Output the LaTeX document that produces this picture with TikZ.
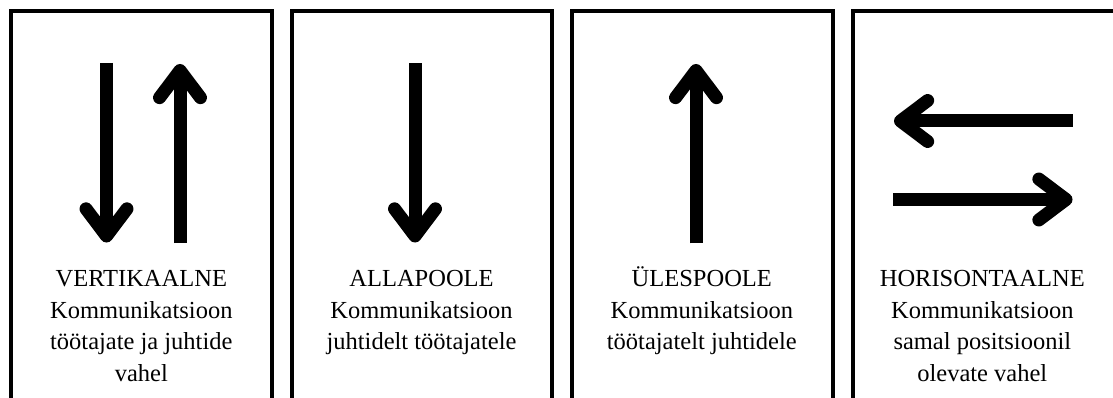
\documentclass[tikz,border=0pt]{standalone}
\usepackage{fontspec}
\setmainfont{Liberation Serif}
\usetikzlibrary{calc}

\tikzset{
  panel/.style={draw=black, line width=4pt},
  shaft/.style={draw=black, line width=13pt, line cap=butt},
  barb/.style={draw=black, line width=13pt, line cap=round, line join=round},
  caption/.style={inner sep=0pt, anchor=base,
    font=\fontsize{24.5}{31.5}\selectfont},
}

% thick arrow from coordinate #1 to the tip vertex #2
\newcommand\fatarrow[2]{%
  \draw[shaft] (#1) -- (#2);
  \draw[barb] ($(#2)!34pt!37:(#1)$) -- (#2) -- ($(#2)!34pt!-37:(#1)$);
}

\begin{document}
\begin{tikzpicture}[x=1pt,y=-1pt]
  \useasboundingbox (0,0) rectangle (1113,398);
  \clip (0,0) rectangle (1113,398);

  % four framed panels, open at the bottom edge
  \foreach \i in {0,1,2} {
    \draw[panel] ({11+280.5*\i},11.5) rectangle ({271.5+280.5*\i},430);
  }
  \draw[panel] (852.5,11.5) rectangle (1115.5,430);

  % panel 1: down and up
  \coordinate (v1s) at (106.5,63);   \coordinate (v1t) at (106.5,236);
  \coordinate (v2s) at (180,243);    \coordinate (v2t) at (180,70.5);
  \fatarrow{v1s}{v1t}
  \fatarrow{v2s}{v2t}

  % panel 2: down
  \coordinate (ds) at (415,63.3);    \coordinate (dt) at (415,236);
  \fatarrow{ds}{dt}

  % panel 3: up
  \coordinate (us) at (696,243.3);   \coordinate (ut) at (696,70.5);
  \fatarrow{us}{ut}

  % panel 4: left and right
  \coordinate (ls) at (1072.7,121);  \coordinate (lt) at (900.5,121);
  \coordinate (rs) at (893.3,199.5); \coordinate (rt) at (1066,199.5);
  \fatarrow{ls}{lt}
  \fatarrow{rs}{rt}

  % captions
  \node[caption] (c1) at (141.3,286.7) {\begin{tabular}[t]{@{}c@{}}VERTIKAALNE\\Kommunikatsioon\\töötajate ja juhtide\\vahel\end{tabular}};
  \node[caption] (c2) at (421.5,286.7) {\begin{tabular}[t]{@{}c@{}}ALLAPOOLE\\Kommunikatsioon\\juhtidelt töötajatele\end{tabular}};
  \node[caption] (c3) at (701.8,286.7) {\begin{tabular}[t]{@{}c@{}}ÜLESPOOLE\\Kommunikatsioon\\töötajatelt juhtidele\end{tabular}};
  \node[caption] (c4) at (982.3,286.7) {\begin{tabular}[t]{@{}c@{}}HORISONTAALNE\\Kommunikatsioon\\samal positsioonil\\olevate vahel\end{tabular}};
\end{tikzpicture}
\end{document}
